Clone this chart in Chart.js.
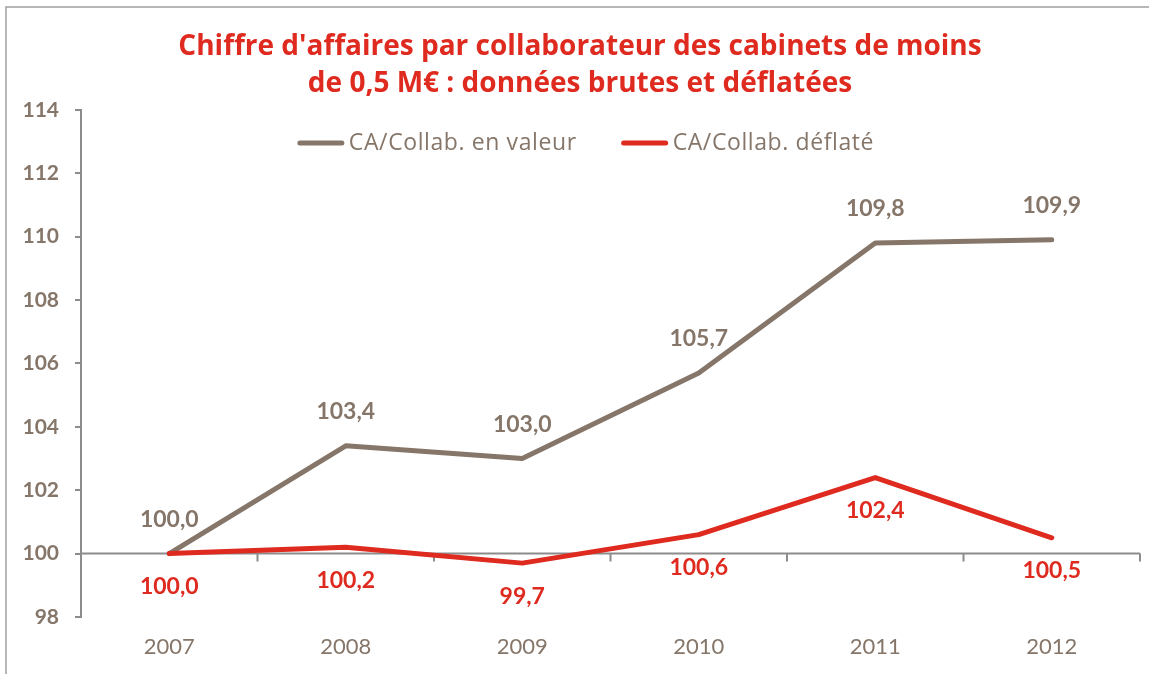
<!DOCTYPE html>
<html lang="fr">
<head>
<meta charset="UTF-8" />
<title>CA par collaborateur</title>
<script src="https://cdn.jsdelivr.net/npm/chart.js"></script>
<style>
    body { margin: 0; background: #fff; }
    #wrap { width: 1149px; height: 674px; position: relative; }
</style>
</head>
<body>
<div id="wrap"><canvas id="caChart" width="1149" height="674"></canvas></div>
<script>
// data
const years = ['2007', '2008', '2009', '2010', '2011', '2012'];
const caValeur = [100.0, 103.4, 103.0, 105.7, 109.8, 109.9];
const caDeflate = [100.0, 100.2, 99.7, 100.6, 102.4, 100.5];
const seriesNames = ['CA/Collab. en valeur', 'CA/Collab. déflaté'];
const titleLines = [
    "Chiffre d'affaires par collaborateur des cabinets de moins",
    'de 0,5 M€ : données brutes et déflatées'
];

const GREY = '#857669';
const RED = '#de2a1f';
const AXIS = '#8c8c8c';
const FONT = 'Lato';
const TEXT_FONT = '"Open Sans"';

const fmt = (v) => v.toFixed(1).replace('.', ',');

// outer frame (top + left edge of the original picture)
const framePlugin = {
    id: 'frame',
    beforeDraw(chart) {
        const c = chart.ctx;
        c.save();
        c.strokeStyle = '#a0a0a0';
        c.lineWidth = 1.5;
        c.beginPath();
        c.moveTo(6, chart.height);
        c.lineTo(6, 7);
        c.lineTo(chart.width, 7);
        c.stroke();
        c.restore();
    }
};

// category axis drawn at y = 100, with marks between categories
const baseLinePlugin = {
    id: 'baseLine',
    beforeDatasetsDraw(chart) {
        const c = chart.ctx;
        const x = chart.scales.x;
        const y0 = chart.scales.y.getPixelForValue(100);
        const area = chart.chartArea;
        c.save();
        c.strokeStyle = AXIS;
        c.lineWidth = 2;
        c.beginPath();
        c.moveTo(area.left, y0);
        c.lineTo(area.right, y0);
        const step = x.getPixelForTick(1) - x.getPixelForTick(0);
        for (let i = 0; i <= years.length; i++) {
            const px = x.getPixelForTick(0) - step / 2 + i * step;
            c.moveTo(px, y0);
            c.lineTo(px, y0 + 8);
        }
        c.stroke();
        c.restore();
    }
};

// value labels: grey above, red below
const valueLabelPlugin = {
    id: 'valueLabels',
    afterDatasetsDraw(chart) {
        const c = chart.ctx;
        c.save();
        c.font = 'bold 23px ' + FONT;
        c.textAlign = 'center';
        c.textBaseline = 'middle';
        chart.data.datasets.forEach((ds, i) => {
            const meta = chart.getDatasetMeta(i);
            c.fillStyle = ds.borderColor;
            meta.data.forEach((pt, j) => {
                const dy = ds.labelSide === 'above' ? -34 : 33;
                c.fillText(fmt(ds.data[j]), pt.x, pt.y + dy);
            });
        });
        c.restore();
    }
};

// legend laid inside the plot, like the original
const legendPlugin = {
    id: 'insideLegend',
    afterDraw(chart) {
        const c = chart.ctx;
        const lineLen = 46, gap = 5, spacing = 45;
        c.save();
        c.font = '23px ' + TEXT_FONT;
        c.letterSpacing = '0.6px';
        c.textBaseline = 'middle';
        const items = chart.data.datasets.slice().sort((a, b) => a.legendIndex - b.legendIndex);
        const widths = items.map((ds) => lineLen + gap + c.measureText(ds.label).width);
        const total = widths.reduce((a, b) => a + b, 0) + spacing * (items.length - 1);
        let x = 586 - total / 2;
        const y = 143;
        items.forEach((ds, i) => {
            c.strokeStyle = ds.borderColor;
            c.lineWidth = 5;
            c.lineCap = 'round';
            c.beginPath();
            c.moveTo(x + 2, y);
            c.lineTo(x + lineLen - 2, y);
            c.stroke();
            c.fillStyle = GREY;
            c.fillText(ds.label, x + lineLen + gap, y);
            x += widths[i] + spacing;
        });
        c.restore();
    }
};

new Chart(document.getElementById('caChart'), {
    type: 'line',
    data: {
        labels: years,
        datasets: [
            {
                label: seriesNames[0],
                data: caValeur,
                borderColor: GREY,
                borderWidth: 5,
                pointRadius: 0,
                tension: 0,
                borderCapStyle: 'round',
                borderJoinStyle: 'round',
                order: 2,
                legendIndex: 0,
                labelSide: 'above'
            },
            {
                label: seriesNames[1],
                data: caDeflate,
                borderColor: RED,
                borderWidth: 5,
                pointRadius: 0,
                tension: 0,
                borderCapStyle: 'round',
                borderJoinStyle: 'round',
                order: 1,
                legendIndex: 1,
                labelSide: 'below'
            }
        ]
    },
    options: {
        responsive: false,
        animation: false,
        layout: { padding: { left: 20, right: 9, top: 0, bottom: 0 } },
        plugins: {
            legend: { display: false },
            tooltip: { enabled: false },
            title: {
                display: true,
                text: titleLines,
                color: RED,
                font: { family: TEXT_FONT, size: 28, weight: 'bold', lineHeight: 1.32 },
                padding: { top: 29, bottom: 7 }
            }
        },
        scales: {
            x: {
                offset: true,
                grid: { display: false },
                border: { display: false },
                ticks: {
                    color: GREY,
                    padding: 9,
                    font: { family: FONT, size: 22 }
                },
                afterFit(scale) { scale.height = 57; }
            },
            y: {
                min: 98,
                max: 114,
                ticks: {
                    stepSize: 2,
                    color: GREY,
                    padding: 16,
                    font: { family: FONT, size: 21, weight: 'bold' }
                },
                grid: {
                    drawOnChartArea: false,
                    drawTicks: true,
                    tickLength: 6,
                    color: AXIS,
                    lineWidth: 2
                },
                border: { display: true, color: AXIS, width: 2 },
                afterFit(scale) { scale.width = 61; }
            }
        }
    },
    plugins: [framePlugin, baseLinePlugin, valueLabelPlugin, legendPlugin]
});
</script>
</body>
</html>
